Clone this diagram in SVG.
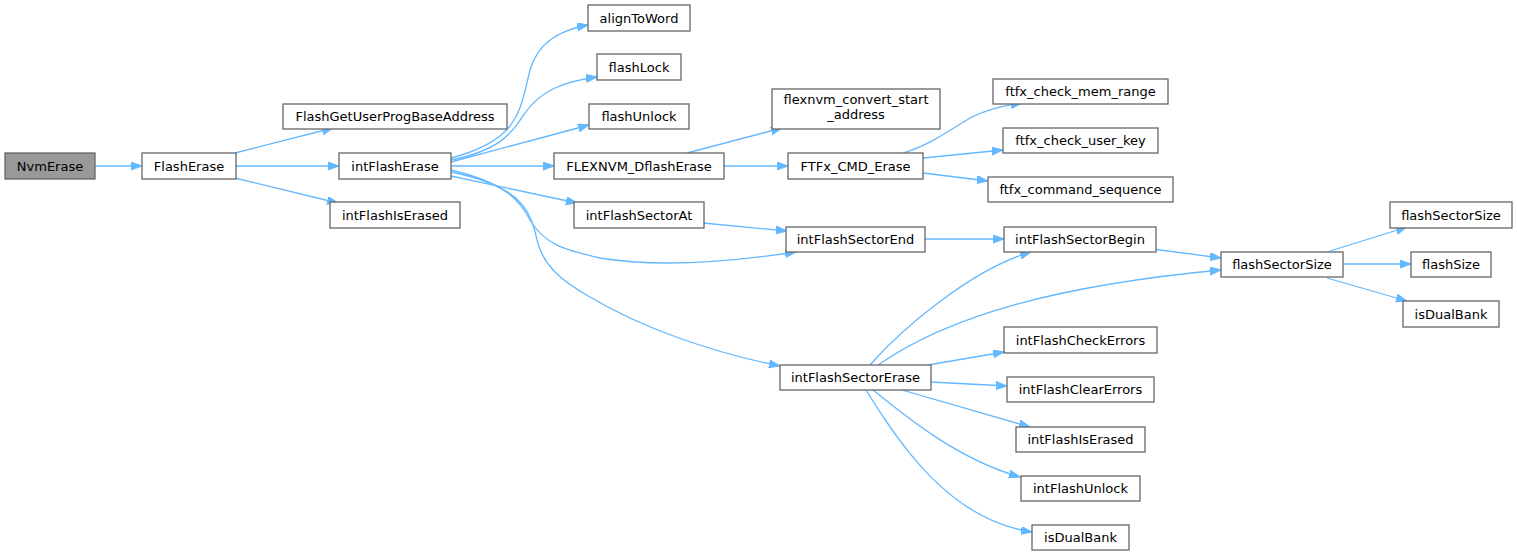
<svg xmlns="http://www.w3.org/2000/svg" width="1517" height="556" viewBox="0 0 1517 556">
<style>
.n rect{fill:#ffffff;stroke:#666666;stroke-width:1.3}
.n text{font-family:"DejaVu Sans","Liberation Sans",sans-serif;font-size:13px;fill:#000000;text-anchor:middle}
#n_NvmErase rect{fill:#999999}
.e path{fill:none;stroke:#63b8ff;stroke-width:1.3;marker-end:url(#ah)}
</style>
<defs>
<marker id="ah" markerUnits="userSpaceOnUse" markerWidth="12" markerHeight="9" refX="11" refY="4" orient="auto">
<path d="M0,0 L11,4 L0,8 z" fill="#63b8ff" stroke="#63b8ff" stroke-width="1"/>
</marker>
</defs>
<rect width="1517" height="556" fill="#ffffff"/>
<g id="edges" class="e">
<path d="M95,166 L142,166"/>
<path d="M235,153 L333,128"/>
<path d="M236,166 L339,166"/>
<path d="M235,178 L338,203"/>
<path d="M451,158 C520,140 520,110 530,70 C538,42 560,30 588,25"/>
<path d="M451,160 C500,150 510,135 525,113 C540,92 560,82 597,77"/>
<path d="M451,162 L589,125"/>
<path d="M451,166 L554,166"/>
<path d="M451,176 L577,203"/>
<path d="M451,170 C505,183 520,200 530,220 C545,245 565,250 600,258 C660,268 730,262 796,252"/>
<path d="M451,172 C515,185 530,205 537,240 C543,265 560,280 590,297 C640,327 710,352 780,366"/>
<path d="M687,153 L782,128"/>
<path d="M724,166 L788,166"/>
<path d="M903,153 C930,145 950,130 970,118 C985,110 1000,106 1022,103"/>
<path d="M923,158 L1003,150"/>
<path d="M923,173 L988,181"/>
<path d="M703,223 L787,231"/>
<path d="M925,239 L1004,239"/>
<path d="M1145,248 L1221,258"/>
<path d="M870,365 C905,325 975,268 1031,252"/>
<path d="M878,365 C950,315 1060,285 1221,270"/>
<path d="M928,365 L1004,352"/>
<path d="M931,382 L1007,386"/>
<path d="M902,390 L1030,427"/>
<path d="M873,390 C910,420 960,460 1020,477"/>
<path d="M866,390 C900,445 950,520 1032,532"/>
<path d="M1327,252 L1407,227"/>
<path d="M1343,264 L1411,264"/>
<path d="M1327,278 L1407,301"/>
</g>
<g id="n_NvmErase" class="n"><rect x="5" y="153" width="90" height="26"/><text x="50" y="170.5">NvmErase</text></g>
<g id="n_FlashErase" class="n"><rect x="142" y="153" width="94" height="26"/><text x="189" y="170.5">FlashErase</text></g>
<g id="n_FlashGetUserProgBaseAddress" class="n"><rect x="283" y="104" width="224" height="25"/><text x="395" y="121">FlashGetUserProgBaseAddress</text></g>
<g id="n_intFlashErase" class="n"><rect x="339" y="153" width="112" height="26"/><text x="395" y="170.5">intFlashErase</text></g>
<g id="n_intFlashIsErased1" class="n"><rect x="330" y="202" width="130" height="26"/><text x="395" y="219.5">intFlashIsErased</text></g>
<g id="n_alignToWord" class="n"><rect x="588" y="5" width="102" height="26"/><text x="639" y="22.5">alignToWord</text></g>
<g id="n_flashLock" class="n"><rect x="597" y="54" width="84" height="26"/><text x="639" y="71.5">flashLock</text></g>
<g id="n_flashUnlock" class="n"><rect x="589" y="104" width="100" height="25"/><text x="639" y="121">flashUnlock</text></g>
<g id="n_FLEXNVM_DflashErase" class="n"><rect x="554" y="153" width="170" height="26"/><text x="639" y="170.5">FLEXNVM_DflashErase</text></g>
<g id="n_intFlashSectorAt" class="n"><rect x="574" y="202" width="130" height="26"/><text x="639" y="219.5">intFlashSectorAt</text></g>
<g id="n_intFlashSectorEnd" class="n"><rect x="786" y="227" width="139" height="25"/><text x="855.5" y="244">intFlashSectorEnd</text></g>
<g id="n_intFlashSectorErase" class="n"><rect x="780" y="365" width="151" height="25"/><text x="855.5" y="382">intFlashSectorErase</text></g>
<g id="n_flexnvm_convert_start_address" class="n"><rect x="772" y="89" width="168" height="40"/><text x="856" y="104">flexnvm_convert_start</text><text x="856" y="119">_address</text></g>
<g id="n_FTFx_CMD_Erase" class="n"><rect x="788" y="153" width="135" height="26"/><text x="855.5" y="170.5">FTFx_CMD_Erase</text></g>
<g id="n_ftfx_check_mem_range" class="n"><rect x="993" y="79" width="175" height="25"/><text x="1080.5" y="96">ftfx_check_mem_range</text></g>
<g id="n_ftfx_check_user_key" class="n"><rect x="1003" y="128" width="155" height="25"/><text x="1080.5" y="145">ftfx_check_user_key</text></g>
<g id="n_ftfx_command_sequence" class="n"><rect x="988" y="177" width="185" height="25"/><text x="1080.5" y="194">ftfx_command_sequence</text></g>
<g id="n_intFlashSectorBegin" class="n"><rect x="1004" y="227" width="152" height="25"/><text x="1080" y="244">intFlashSectorBegin</text></g>
<g id="n_intFlashCheckErrors" class="n"><rect x="1004" y="327" width="153" height="26"/><text x="1080.5" y="344.5">intFlashCheckErrors</text></g>
<g id="n_intFlashClearErrors" class="n"><rect x="1007" y="377" width="147" height="25"/><text x="1080.5" y="394">intFlashClearErrors</text></g>
<g id="n_intFlashIsErased2" class="n"><rect x="1016" y="427" width="129" height="25"/><text x="1080.5" y="444">intFlashIsErased</text></g>
<g id="n_intFlashUnlock" class="n"><rect x="1021" y="476" width="119" height="25"/><text x="1080.5" y="493">intFlashUnlock</text></g>
<g id="n_isDualBank2" class="n"><rect x="1032" y="525" width="97" height="25"/><text x="1080.5" y="542">isDualBank</text></g>
<g id="n_flashSectorSize1" class="n"><rect x="1221" y="252" width="122" height="25"/><text x="1282" y="269">flashSectorSize</text></g>
<g id="n_flashSectorSize2" class="n"><rect x="1390" y="202" width="122" height="26"/><text x="1451" y="219.5">flashSectorSize</text></g>
<g id="n_flashSize" class="n"><rect x="1411" y="252" width="80" height="25"/><text x="1451" y="269">flashSize</text></g>
<g id="n_isDualBank1" class="n"><rect x="1403" y="301" width="96" height="26"/><text x="1451" y="318.5">isDualBank</text></g>
</svg>
